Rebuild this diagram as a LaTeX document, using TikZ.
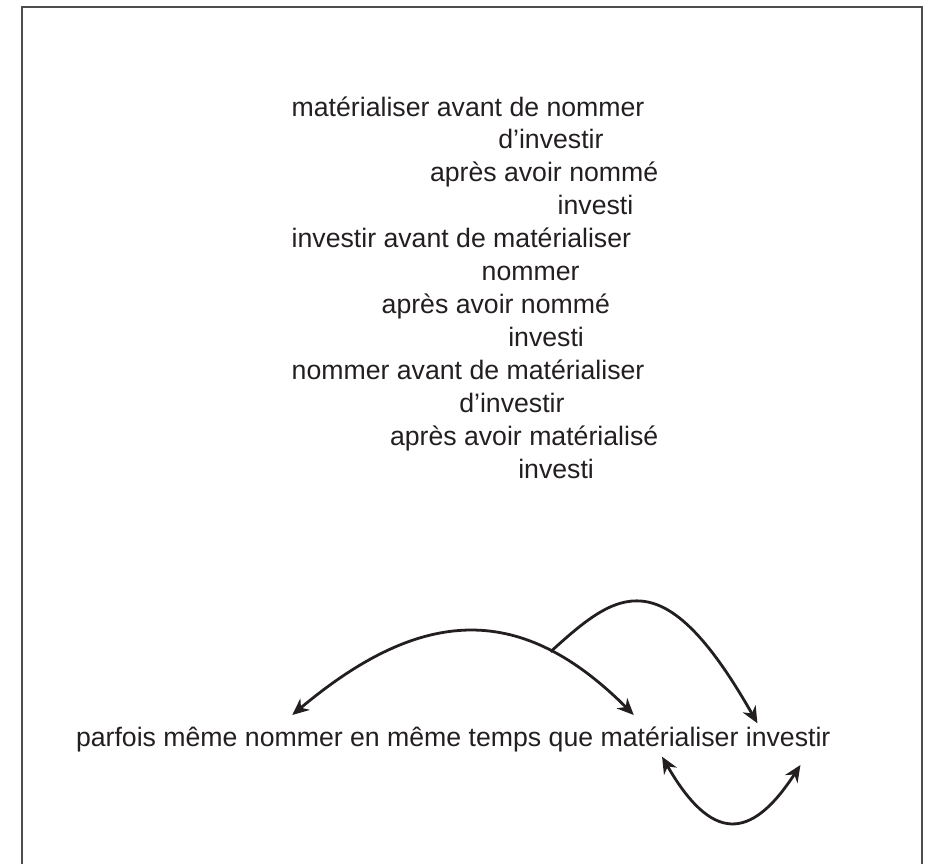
\documentclass[tikz,border=0pt]{standalone}
\usepackage{fontspec}
\setmainfont{Liberation Sans}
\usepackage{tikz}
\usetikzlibrary{positioning, calc, arrows.meta}
\definecolor{ink}{HTML}{231F20}

\begin{document}
\begin{tikzpicture}[x=0.75pt, y=-0.75pt,
  >={Stealth[length=12.5pt, width=11pt, inset=4pt]},
  every node/.style={font=\fontsize{20}{25}\selectfont, text=ink, inner sep=0pt, outer sep=0pt},
  txt/.style={anchor=base west},
  link/.style={draw=ink, line width=2.1pt}]

\useasboundingbox (0,0) rectangle (929,864);

% frame, open at the bottom
\draw[ink!80, line width=1.5pt] (21.5,864) -- (21.5,7) -- (921.7,7) -- (921.7,864);

% the three orders
\node[txt] (matavant)  at (291.7,116)   {matérialiser avant de nommer};
\node[txt] (dinvA)     at (498.3,148.9) {d’investir};
\node[txt] (apresA)    at (430,181.9)   {après avoir nommé};
\node[txt] (invA)      at (557.7,214.8) {investi};
\node[txt] (invavant)  at (291.7,247.8) {investir avant de matérialiser};
\node[txt] (nomB)      at (481.7,280.7) {nommer};
\node[txt] (apresB)    at (381.7,313.6) {après avoir nommé};
\node[txt] (invB)      at (508.3,346.6) {investi};
\node[txt] (nomavant)  at (291.7,379.5) {nommer avant de matérialiser};
\node[txt] (dinvC)     at (459.3,412.5) {d’investir};
\node[txt] (apresC)    at (390,445.4)   {après avoir matérialisé};
\node[txt] (invC)      at (518.3,478.3) {investi};

% bottom line, cut into words
\node[txt] (parfois) at (76,746.7) {parfois même};
\node[anchor=base west, base right=5.56pt of parfois] (nommer) {nommer};
\node[anchor=base west, base right=5.56pt of nommer] (entemps) {en même temps que};
\node[anchor=base west, base right=5.56pt of entemps] (mat) {matérialiser};
\node[anchor=base west, base right=5.56pt of mat] (inv) {investir};

% arcs
\draw[link, <->] ($(nommer.base)+(-1.6,-31.7)$)
  .. controls +(132.3,-111) and +(-111,-111) .. ($(mat.base)+(-35.8,-31.7)$)
  coordinate[pos=0.745] (junc);
\draw[link, ->] (junc)
  .. controls +(66,-60) and +(-95,-167.3) .. ($(inv.base)+(-30.7,-23.4)$);
\draw[link, <->] ($(mat.base)+(-7.5,10)$)
  .. controls +(49.2,85.3) and +(-50,77) .. ($(inv.base)+(12.3,18.3)$);

\end{tikzpicture}
\end{document}
